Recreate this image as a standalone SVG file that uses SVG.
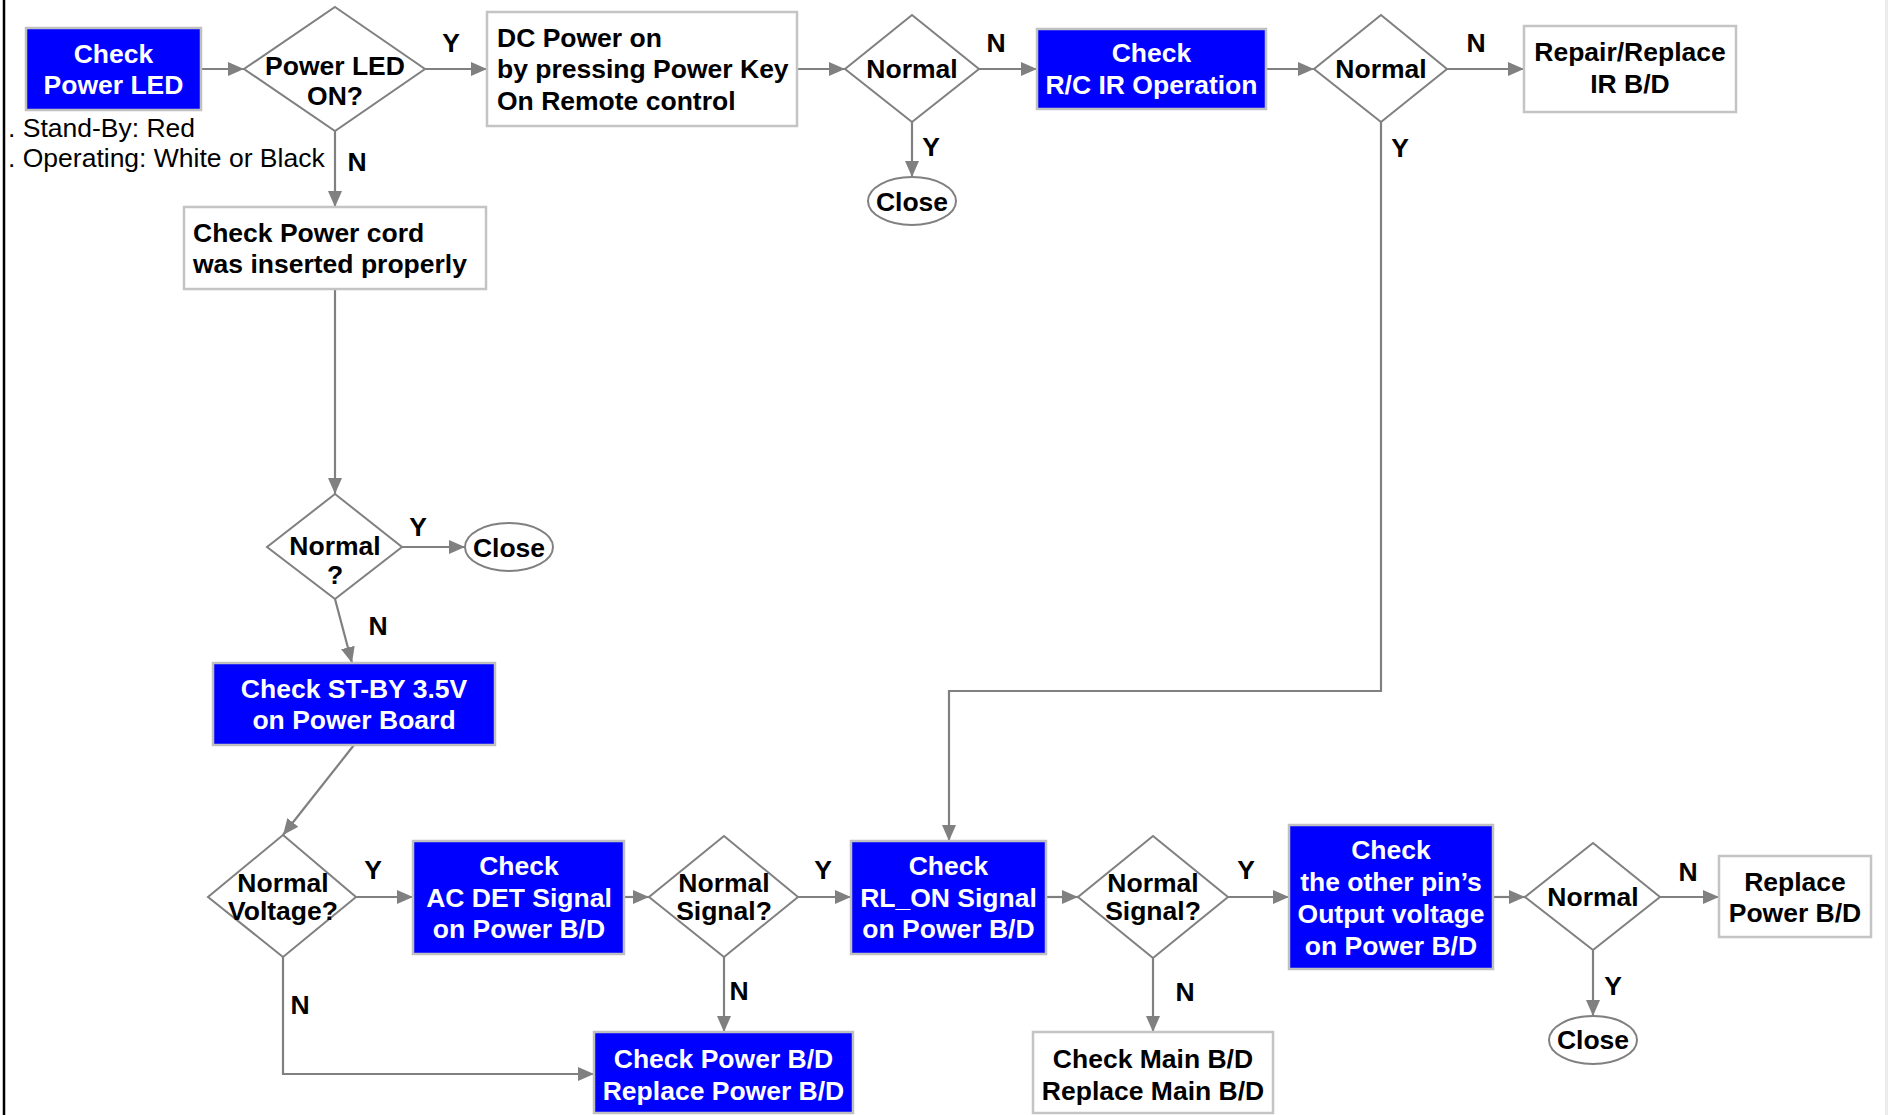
<svg xmlns="http://www.w3.org/2000/svg" width="1888" height="1115" viewBox="0 0 1888 1115">
<style>
text{font-family:"Liberation Sans",Arial,sans-serif;font-size:26.5px;font-weight:bold;fill:#000}
.w{fill:#fff}
.r{font-weight:normal}
.m{text-anchor:middle}
.blue{fill:#0000ff;stroke:#c0c0c0;stroke-width:2.5}
.box{fill:#fff;stroke:#c4c4c4;stroke-width:2.5}
.dia{fill:#fff;stroke:#808080;stroke-width:2}
.ell{fill:#fff;stroke:#808080;stroke-width:2}
.c{fill:none;stroke:#808080;stroke-width:2.2;marker-end:url(#ah)}
</style>
<defs>
<marker id="ah" markerUnits="userSpaceOnUse" markerWidth="16" markerHeight="14" refX="16" refY="7" orient="auto">
<path d="M0,0 L16,7 L0,14 z" fill="#808080"/>
</marker>
</defs>
<rect x="0" y="0" width="1888" height="1115" fill="#fff"/>
<line x1="4" y1="0" x2="4" y2="1115" stroke="#000" stroke-width="2.5"/>
<rect x="1885" y="0" width="3" height="1115" fill="#ececec"/>

<g id="connectors">
<path class="c" d="M201,69 L244,69"/>
<path class="c" d="M425,69 L487,69"/>
<path class="c" d="M335,131 L335,207"/>
<path class="c" d="M797,69 L845,69"/>
<path class="c" d="M979,69 L1037,69"/>
<path class="c" d="M912,122 L912,177"/>
<path class="c" d="M1266,69 L1314,69"/>
<path class="c" d="M1447,69 L1524,69"/>
<path class="c" d="M1381,122 L1381,691 L949,691 L949,841"/>
<path class="c" d="M335,289 L335,494"/>
<path class="c" d="M402,547 L465,547"/>
<path class="c" d="M335,599 L352,663"/>
<path class="c" d="M354,745 L283,835"/>
<path class="c" d="M356,897 L413,897"/>
<path class="c" d="M624,897 L649,897"/>
<path class="c" d="M798,897 L851,897"/>
<path class="c" d="M724,957 L724,1032"/>
<path class="c" d="M283,957 L283,1074 L594,1074"/>
<path class="c" d="M1046,897 L1078,897"/>
<path class="c" d="M1228,897 L1289,897"/>
<path class="c" d="M1153,958 L1153,1032"/>
<path class="c" d="M1493,897 L1525,897"/>
<path class="c" d="M1660,897 L1719,897"/>
<path class="c" d="M1593,950 L1593,1016"/>
<text class="m" x="451" y="52">Y</text>
<text class="m" x="357" y="171">N</text>
<text class="m" x="996" y="52">N</text>
<text class="m" x="931" y="156">Y</text>
<text class="m" x="1476" y="52">N</text>
<text class="m" x="1400" y="157">Y</text>
<text class="m" x="418" y="536">Y</text>
<text class="m" x="378" y="635">N</text>
<text class="m" x="373" y="879">Y</text>
<text class="m" x="823" y="879">Y</text>
<text class="m" x="739" y="1000">N</text>
<text class="m" x="300" y="1014">N</text>
<text class="m" x="1246" y="879">Y</text>
<text class="m" x="1185" y="1001">N</text>
<text class="m" x="1688" y="881">N</text>
<text class="m" x="1613" y="995">Y</text>
</g>

<g id="check-power-led">
<rect class="blue" x="26" y="28" width="175" height="82"/>
<text class="w m" x="113.5" y="63">Check</text>
<text class="w m" x="113.5" y="94">Power LED</text>
</g>
<g id="led-note">
<text class="r" x="8" y="137">. Stand-By: Red</text>
<text class="r" x="8" y="167">. Operating: White or Black</text>
</g>
<g id="power-led-on">
<polygon class="dia" points="335,7 425,69 335,131 244,69"/>
<text class="m" x="335" y="75">Power LED</text>
<text class="m" x="335" y="105">ON?</text>
</g>
<g id="dc-power-on">
<rect class="box" x="487" y="12" width="310" height="114"/>
<text x="497" y="47">DC Power on</text>
<text x="497" y="78">by pressing Power Key</text>
<text x="497" y="110">On Remote control</text>
</g>
<g id="normal-1">
<polygon class="dia" points="912,15 979,69 912,122 845,69"/>
<text class="m" x="912" y="78">Normal</text>
</g>
<g id="close-1">
<ellipse class="ell" cx="912" cy="201" rx="44" ry="24"/>
<text class="m" x="912" y="211">Close</text>
</g>
<g id="check-rc-ir">
<rect class="blue" x="1037" y="29" width="229" height="80"/>
<text class="w m" x="1151.5" y="62">Check</text>
<text class="w m" x="1151.5" y="94">R/C IR Operation</text>
</g>
<g id="normal-2">
<polygon class="dia" points="1381,15 1447,69 1381,122 1314,69"/>
<text class="m" x="1381" y="78">Normal</text>
</g>
<g id="repair-ir">
<rect class="box" x="1524" y="26" width="212" height="86"/>
<text class="m" x="1630" y="61">Repair/Replace</text>
<text class="m" x="1630" y="93">IR B/D</text>
</g>
<g id="check-power-cord">
<rect class="box" x="184" y="207" width="302" height="82"/>
<text x="193" y="242">Check Power cord</text>
<text x="193" y="273">was inserted properly</text>
</g>
<g id="normal-q">
<polygon class="dia" points="335,494 402,547 335,599 267,547"/>
<text class="m" x="335" y="555">Normal</text>
<text class="m" x="335" y="584">?</text>
</g>
<g id="close-2">
<ellipse class="ell" cx="509" cy="547" rx="44" ry="24"/>
<text class="m" x="509" y="557">Close</text>
</g>
<g id="check-stby">
<rect class="blue" x="213" y="663" width="282" height="82"/>
<text class="w m" x="354" y="698">Check ST-BY 3.5V</text>
<text class="w m" x="354" y="729">on Power Board</text>
</g>
<g id="normal-voltage">
<polygon class="dia" points="283,835 356,897 283,957 208,897"/>
<text class="m" x="283" y="892">Normal</text>
<text class="m" x="283" y="920">Voltage?</text>
</g>
<g id="check-ac-det">
<rect class="blue" x="413" y="841" width="211" height="113"/>
<text class="w m" x="519" y="875">Check</text>
<text class="w m" x="519" y="907">AC DET Signal</text>
<text class="w m" x="519" y="938">on Power B/D</text>
</g>
<g id="normal-signal-1">
<polygon class="dia" points="724,836 798,897 724,957 649,897"/>
<text class="m" x="724" y="892">Normal</text>
<text class="m" x="724" y="920">Signal?</text>
</g>
<g id="check-power-bd">
<rect class="blue" x="594" y="1032" width="259" height="81"/>
<text class="w m" x="723.5" y="1068">Check Power B/D</text>
<text class="w m" x="723.5" y="1100">Replace Power B/D</text>
</g>
<g id="check-rl-on">
<rect class="blue" x="851" y="841" width="195" height="113"/>
<text class="w m" x="948.5" y="875">Check</text>
<text class="w m" x="948.5" y="907">RL_ON Signal</text>
<text class="w m" x="948.5" y="938">on Power B/D</text>
</g>
<g id="normal-signal-2">
<polygon class="dia" points="1153,836 1228,897 1153,958 1078,897"/>
<text class="m" x="1153" y="892">Normal</text>
<text class="m" x="1153" y="920">Signal?</text>
</g>
<g id="check-main-bd">
<rect class="box" x="1033" y="1032" width="240" height="81"/>
<text class="m" x="1153" y="1068">Check Main B/D</text>
<text class="m" x="1153" y="1100">Replace Main B/D</text>
</g>
<g id="check-other-pins">
<rect class="blue" x="1289" y="825" width="204" height="144"/>
<text class="w m" x="1391" y="859">Check</text>
<text class="w m" x="1391" y="891">the other pin’s</text>
<text class="w m" x="1391" y="923">Output voltage</text>
<text class="w m" x="1391" y="955">on Power B/D</text>
</g>
<g id="normal-3">
<polygon class="dia" points="1593,843 1660,897 1593,950 1525,897"/>
<text class="m" x="1593" y="906">Normal</text>
</g>
<g id="replace-power-bd">
<rect class="box" x="1719" y="856" width="152" height="81"/>
<text class="m" x="1795" y="891">Replace</text>
<text class="m" x="1795" y="922">Power B/D</text>
</g>
<g id="close-3">
<ellipse class="ell" cx="1593" cy="1040" rx="44" ry="24"/>
<text class="m" x="1593" y="1049">Close</text>
</g>
</svg>
